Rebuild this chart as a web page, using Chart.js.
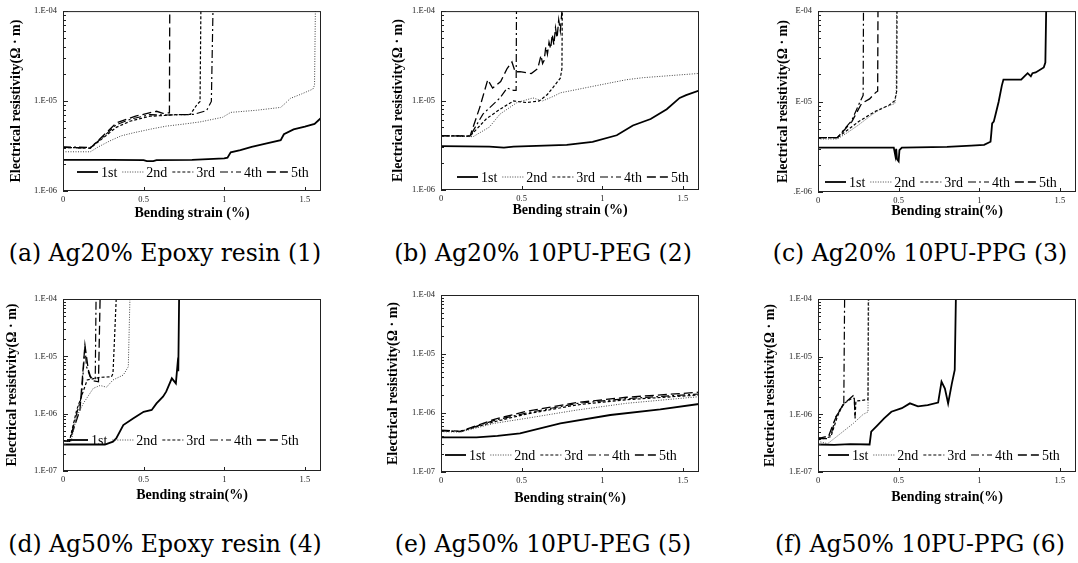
<!DOCTYPE html>
<html>
<head>
<meta charset="utf-8">
<script src="https://cdn.jsdelivr.net/npm/chart.js@4/dist/chart.umd.min.js"></script>
<style>
body{margin:0;background:#fff;width:1078px;height:563px;position:relative;overflow:hidden}
canvas{position:absolute}
.cap{position:absolute;width:400px;text-align:center;font-family:"DejaVu Serif",serif;font-size:23.5px;line-height:23.5px;color:#000;white-space:nowrap}
</style>
</head>
<body>
<script>
// data: [strain %, resistivity ohm*m]
const seriesNames = ['1st', '2nd', '3rd', '4th', '5th'];
const xTicks = [0, 0.5, 1, 1.5];
const captions = ['(a) Ag20% Epoxy resin (1)', '(b) Ag20% 10PU-PEG (2)', '(c) Ag20% 10PU-PPG (3)',
                  '(d) Ag50% Epoxy resin (4)', '(e) Ag50% 10PU-PEG (5)', '(f) Ag50% 10PU-PPG (6)'];
const yTitle = 'Electrical resistivity(\u03A9 \u00B7 m)';
const xTitles = ['Bending strain (%)', 'Bending strain (%)', 'Bending strain(%)',
                 'Bending strain(%)', 'Bending strain(%)', 'Bending strain(%)'];
const yLabelsStd = {'-4': '1.E-04', '-5': '1.E-05', '-6': '1.E-06', '-7': '1.E-07'};
const yLabelsCut = {'-4': 'E-04', '-5': 'E-05', '-6': '.E-06'};

// (a) Ag20% Epoxy
const a1 = [[0,2.22e-6],[0.3,2.22e-6],[0.5,2.2e-6],[0.52,2.15e-6],[0.56,2.15e-6],[0.58,2.2e-6],[0.8,2.22e-6],[1.0,2.3e-6],[1.02,2.35e-6],[1.04,2.69e-6],[1.1,2.85e-6],[1.17,3.1e-6],[1.25,3.35e-6],[1.35,3.67e-6],[1.37,4.27e-6],[1.43,4.84e-6],[1.5,5.2e-6],[1.56,5.58e-6],[1.6,6.49e-6]];
const a2 = [[0,2.73e-6],[0.17,2.73e-6],[0.22,3.1e-6],[0.29,3.6e-6],[0.36,4.1e-6],[0.44,4.45e-6],[0.55,4.9e-6],[0.64,5.26e-6],[0.75,5.55e-6],[0.85,5.86e-6],[0.99,6.6e-6],[1.04,7.48e-6],[1.2,7.9e-6],[1.35,8.5e-6],[1.38,9.5e-6],[1.41,1.07e-5],[1.48,1.2e-5],[1.55,1.36e-5],[1.56,1.5e-5],[1.565,1e-4]];
const a3 = [[0,3.05e-6],[0.17,3.0e-6],[0.25,3.9e-6],[0.33,5.1e-6],[0.42,6.0e-6],[0.54,6.78e-6],[0.62,6.9e-6],[0.7,7.06e-6],[0.79,7.1e-6],[0.83,9.1e-6],[0.85,9.9e-6],[0.855,1e-4]];
const a4 = [[0,3.1e-6],[0.17,3.05e-6],[0.25,4.0e-6],[0.33,5.45e-6],[0.42,6.3e-6],[0.54,7.06e-6],[0.65,7.0e-6],[0.81,7.1e-6],[0.89,7.82e-6],[0.92,9.9e-6],[0.93,1e-4]];
const a5 = [[0,3.05e-6],[0.17,3.0e-6],[0.26,4.3e-6],[0.33,5.7e-6],[0.45,6.8e-6],[0.58,7.7e-6],[0.62,7.3e-6],[0.66,7.4e-6],[0.662,1e-4]];

// (b) Ag20% 10PU-PEG
const b1 = [[0,3.1e-6],[0.3,3.05e-6],[0.39,2.98e-6],[0.45,3.05e-6],[0.78,3.2e-6],[0.94,3.46e-6],[1.09,4.09e-6],[1.19,5.26e-6],[1.3,6.22e-6],[1.4,8.0e-6],[1.48,1.07e-5],[1.52,1.15e-5],[1.6,1.29e-5]];
const b2 = [[0,3.99e-6],[0.2,3.95e-6],[0.3,5.05e-6],[0.366,7.06e-6],[0.47,9.47e-6],[0.57,1.07e-5],[0.63,9.9e-6],[0.7,1.12e-5],[0.74,1.22e-5],[0.94,1.44e-5],[1.15,1.71e-5],[1.25,1.8e-5],[1.6,2.01e-5]];
const b3 = [[0,4.05e-6],[0.18,4.0e-6],[0.28,6.22e-6],[0.366,8.0e-6],[0.45,9.9e-6],[0.53,9.5e-6],[0.61,9.9e-6],[0.66,1.17e-5],[0.7,1.44e-5],[0.74,1.78e-5],[0.75,2.28e-5],[0.752,1e-4]];
const b4 = [[0,4.05e-6],[0.18,4.0e-6],[0.26,7.06e-6],[0.366,1.07e-5],[0.41,1.38e-5],[0.45,1.3e-5],[0.466,1.3e-5],[0.468,1e-4]];
const b5 = [[0,4.05e-6],[0.18,4.0e-6],[0.24,8.34e-6],[0.29,1.71e-5],[0.32,1.38e-5],[0.37,1.63e-5],[0.41,2.28e-5],[0.44,2.7e-5],[0.46,2.1e-5],[0.49,2.1e-5],[0.56,2.0e-5],[0.6,2.28e-5],[0.62,3.2e-5],[0.63,2.6e-5],[0.64,2.82e-5],[0.65,4.0e-5],[0.66,3.3e-5],[0.67,4.5e-5],[0.68,3.8e-5],[0.69,5.5e-5],[0.7,4.2e-5],[0.71,6.5e-5],[0.72,5.0e-5],[0.73,8.0e-5],[0.74,6.0e-5],[0.75,1e-4]];

// (c) Ag20% 10PU-PPG
const c1 = [[0,3.1e-6],[0.47,3.1e-6],[0.48,2.5e-6],[0.485,3.0e-6],[0.49,2.3e-6],[0.5,2.18e-6],[0.505,2.9e-6],[0.52,3.1e-6],[0.8,3.15e-6],[0.95,3.25e-6],[1.03,3.32e-6],[1.07,3.6e-6],[1.075,4.5e-6],[1.08,5.73e-6],[1.09,6.0e-6],[1.1,7.06e-6],[1.12,9.9e-6],[1.14,1.5e-5],[1.15,1.75e-5],[1.26,1.75e-5],[1.28,1.9e-5],[1.3,2.06e-5],[1.32,1.9e-5],[1.33,2.06e-5],[1.35,2.1e-5],[1.4,2.38e-5],[1.41,2.7e-5],[1.415,1e-4]];
const c2 = [[0,3.86e-6],[0.12,3.86e-6],[0.18,4.5e-6],[0.25,5.49e-6],[0.33,7.06e-6],[0.39,8.34e-6],[0.476,9.5e-6],[0.485,1.2e-5],[0.487,1e-4]];
const c3 = [[0,3.99e-6],[0.12,3.99e-6],[0.25,5.97e-6],[0.35,7.7e-6],[0.44,9.1e-6],[0.476,1.02e-5],[0.488,1.3e-5],[0.49,1e-4]];
const c4 = [[0,3.99e-6],[0.12,3.99e-6],[0.21,6.22e-6],[0.26,9.9e-6],[0.28,1.17e-5],[0.282,1e-4]];
const c5 = [[0,3.99e-6],[0.12,3.99e-6],[0.21,6.0e-6],[0.27,9.5e-6],[0.32,1.07e-5],[0.36,1.27e-5],[0.37,1.3e-5],[0.372,1e-4]];

// (d) Ag50% Epoxy
const d1 = [[0,2.9e-7],[0.26,2.9e-7],[0.31,3.25e-7],[0.33,3.7e-7],[0.374,6.34e-7],[0.437,8.3e-7],[0.5,1.08e-6],[0.55,1.16e-6],[0.58,1.51e-6],[0.62,1.98e-6],[0.64,2.42e-6],[0.675,4.13e-6],[0.7,3.38e-6],[0.71,7.06e-6],[0.715,5.5e-6],[0.72,1e-4]];
const d2 = [[0,3.4e-7],[0.05,3.3e-7],[0.085,8.87e-7],[0.126,1.51e-6],[0.188,2.77e-6],[0.23,3.1e-6],[0.27,2.9e-6],[0.31,3.87e-6],[0.374,4.72e-6],[0.405,6.6e-6],[0.415,1e-4]];
const d3 = [[0,3.4e-7],[0.04,3.3e-7],[0.085,1.16e-6],[0.15,3.87e-6],[0.23,4.3e-6],[0.3,4.4e-6],[0.31,5.0e-6],[0.32,2.2e-5],[0.33,1e-4]];
const d4 = [[0,3.4e-7],[0.04,3.3e-7],[0.085,1.0e-6],[0.115,2.0e-6],[0.136,1.48e-5],[0.146,6.6e-6],[0.168,4.4e-6],[0.2,4.1e-6],[0.205,1e-4]];
const d5 = [[0,3.4e-7],[0.04,3.3e-7],[0.105,1.16e-6],[0.136,1.58e-5],[0.157,5.8e-6],[0.178,3.8e-6],[0.22,3.6e-6],[0.23,1e-4]];

// (e) Ag50% 10PU-PEG
const e1 = [[0,3.87e-7],[0.22,3.87e-7],[0.35,4.1e-7],[0.49,4.52e-7],[0.74,6.68e-7],[1.05,9.25e-7],[1.36,1.15e-6],[1.6,1.42e-6]];
const e2 = [[0,4.83e-7],[0.12,4.75e-7],[0.33,6.68e-7],[0.53,8.13e-7],[0.84,1.12e-6],[1.15,1.46e-6],[1.6,1.89e-6]];
const e3 = [[0,5.0e-7],[0.12,4.85e-7],[0.33,7.1e-7],[0.53,9.6e-7],[0.84,1.37e-6],[1.15,1.68e-6],[1.6,2.02e-6]];
const e4 = [[0,5.0e-7],[0.12,4.85e-7],[0.33,7.5e-7],[0.53,1.0e-6],[0.84,1.45e-6],[1.15,1.75e-6],[1.6,2.1e-6]];
const e5 = [[0,5.1e-7],[0.12,4.9e-7],[0.33,7.8e-7],[0.53,1.07e-6],[0.84,1.5e-6],[1.15,1.85e-6],[1.6,2.25e-6]];

// (f) Ag50% 10PU-PPG
const f1 = [[0,3.0e-7],[0.1,2.95e-7],[0.2,3.05e-7],[0.32,3.0e-7],[0.33,5.0e-7],[0.37,6.5e-7],[0.41,8.5e-7],[0.455,1.11e-6],[0.52,1.28e-6],[0.57,1.55e-6],[0.62,1.37e-6],[0.68,1.45e-6],[0.745,1.6e-6],[0.766,3.68e-6],[0.787,2.8e-6],[0.807,1.55e-6],[0.83,3.4e-6],[0.848,5.87e-6],[0.855,1e-4]];
const f2 = [[0,3.4e-7],[0.06,3.1e-7],[0.12,4.2e-7],[0.22,7.0e-7],[0.28,1.0e-6],[0.31,1.1e-6],[0.315,1e-4]];
const f3 = [[0,3.6e-7],[0.08,4.1e-7],[0.12,9.1e-7],[0.155,1.5e-6],[0.21,1.9e-6],[0.225,1.9e-6],[0.23,8.5e-7],[0.235,1.7e-6],[0.31,1.8e-6],[0.312,1e-4]];
const f4 = [[0,3.8e-7],[0.08,4.3e-7],[0.11,9.1e-7],[0.14,1.2e-6],[0.16,1.55e-6],[0.165,1e-4]];
const f5 = [[0,3.8e-7],[0.06,3.8e-7],[0.104,8.0e-7],[0.135,1.2e-6],[0.165,1.55e-6],[0.217,2.1e-6],[0.225,1.9e-6],[0.23,9.1e-7]];

const panelData = [[a1,a2,a3,a4,a5],[b1,b2,b3,b4,b5],[c1,c2,c3,c4,c5],[d1,d2,d3,d4,d5],[e1,e2,e3,e4,e5],[f1,f2,f3,f4,f5]];
const yMins = [1e-6, 1e-6, 1e-6, 1e-7, 1e-7, 1e-7];

// line styles for 1st..5th
const lineStyle = [
  {dash: [], w: 1.8, c: '#000'},
  {dash: [1, 1.5], w: 1, c: '#444'},
  {dash: [3, 2], w: 1.2, c: '#000'},
  {dash: [8, 3, 2, 3], w: 1.2, c: '#000'},
  {dash: [9, 4], w: 1.3, c: '#000'}
];

// panel placement on the page
const layout = [
  {left: 8,   top: 0,   w: 320, h: 222, pt: 8,  pr: 7, yw: 55, xh: 31, lgx: 14, lgy: 19, cx: 165, cy: 242, cut: false},
  {left: 390, top: 0,   w: 316, h: 219, pt: 8,  pr: 7, yw: 51, xh: 29, lgx: 16, lgy: 13, cx: 543, cy: 242, cut: false},
  {left: 775, top: 0,   w: 303, h: 220, pt: 8,  pr: 2, yw: 43, xh: 28, lgx: 7,  lgy: 10, cx: 920, cy: 242, cut: true},
  {left: 4,   top: 280, w: 324, h: 224, pt: 19, pr: 7, yw: 59, xh: 33, lgx: 4,  lgy: 31, cx: 165, cy: 533, cut: false},
  {left: 385, top: 280, w: 321, h: 227, pt: 15, pr: 7, yw: 56, xh: 35, lgx: 4,  lgy: 17, cx: 543, cy: 533, cut: false},
  {left: 762, top: 280, w: 316, h: 226, pt: 19, pr: 2, yw: 56, xh: 34, lgx: 10, lgy: 17, cx: 920, cy: 533, cut: false}
];

Chart.defaults.font.family = '"Liberation Serif", "Times New Roman", serif';
Chart.defaults.color = '#000';

function logTicks(min, max) {
  const out = [];
  const e0 = Math.round(Math.log10(min)), e1 = Math.round(Math.log10(max));
  for (let e = e0; e < e1; e++)
    for (let m = 1; m < 10; m++) out.push({value: m * Math.pow(10, e)});
  out.push({value: max});
  return out;
}

// box round the plot and inward tick marks
const frame = {
  id: 'frame',
  afterDatasetsDraw(chart) {
    const {ctx, chartArea: a, scales} = chart;
    ctx.save();
    ctx.strokeStyle = '#222';
    ctx.lineWidth = 1;
    ctx.strokeRect(a.left + 0.5, a.top + 0.5, a.width - 1, a.height - 1);
    ctx.beginPath();
    scales.y.ticks.forEach(t => {
      const py = Math.round(scales.y.getPixelForValue(t.value)) + 0.5;
      const len = t.label ? 5 : 3;
      ctx.moveTo(a.left, py);
      ctx.lineTo(a.left + len, py);
    });
    xTicks.forEach(v => {
      if (!v) return;
      const px = Math.round(scales.x.getPixelForValue(v)) + 0.5;
      ctx.moveTo(px, a.bottom);
      ctx.lineTo(px, a.bottom - 4);
    });
    ctx.stroke();
    ctx.restore();
  }
};

// legend inside the plot, one row near the bottom
const inLegend = {
  id: 'inLegend',
  afterDraw(chart, args, opts) {
    const {ctx, chartArea} = chart;
    let x = chartArea.left + opts.dx;
    const y = chartArea.bottom - opts.dy;
    ctx.save();
    ctx.font = '14px "Liberation Serif"';
    ctx.textBaseline = 'middle';
    chart.data.datasets.forEach(ds => {
      ctx.beginPath();
      ctx.setLineDash(ds.borderDash);
      ctx.lineWidth = ds.borderWidth;
      ctx.strokeStyle = ds.borderColor;
      ctx.moveTo(x, y);
      ctx.lineTo(x + 21, y);
      ctx.stroke();
      x += 24;
      ctx.setLineDash([]);
      ctx.fillStyle = '#000';
      ctx.fillText(ds.label, x, y + 1);
      x += ctx.measureText(ds.label).width + 5;
    });
    ctx.restore();
  }
};

layout.forEach((p, i) => {
  const cv = document.createElement('canvas');
  cv.width = p.w; cv.height = p.h;
  cv.style.left = p.left + 'px'; cv.style.top = p.top + 'px';
  document.body.appendChild(cv);

  const cap = document.createElement('div');
  cap.className = 'cap';
  cap.style.left = (p.cx - 200) + 'px';
  cap.style.top = p.cy + 'px';
  cap.textContent = captions[i];
  document.body.appendChild(cap);

  const yMin = yMins[i];
  const yLab = p.cut ? yLabelsCut : yLabelsStd;

  const datasets = panelData[i].map((pts, k) => ({
    label: seriesNames[k],
    data: pts.map(([x, y]) => ({x, y})),
    borderColor: lineStyle[k].c,
    borderWidth: lineStyle[k].w,
    borderDash: lineStyle[k].dash,
    pointRadius: 0,
    tension: 0,
    fill: false
  }));

  new Chart(cv, {
    type: 'line',
    data: {datasets},
    options: {
      responsive: false,
      animation: false,
      devicePixelRatio: 1,
      layout: {padding: {top: p.pt, right: p.pr, left: 0, bottom: 0}},
      plugins: {
        legend: {display: false},
        tooltip: {enabled: false},
        inLegend: {dx: p.lgx, dy: p.lgy}
      },
      scales: {
        x: {
          type: 'linear', min: 0, max: 1.6,
          afterBuildTicks: s => { s.ticks = xTicks.map(v => ({value: v})); },
          afterFit: s => { s.height = p.xh; },
          grid: {display: false, drawTicks: false},
          border: {display: false},
          ticks: {autoSkip: false, maxRotation: 0, padding: 4, font: {size: 8.5}, color: '#222',
                  callback: v => String(v)},
          title: {display: true, text: xTitles[i], font: {size: 14, weight: 'bold'}, padding: {top: 0, bottom: 0}}
        },
        y: {
          type: 'logarithmic', min: yMin, max: 1e-4,
          afterBuildTicks: s => { s.ticks = logTicks(yMin, 1e-4); },
          afterFit: s => { s.width = p.yw; },
          grid: {display: false, drawTicks: false},
          border: {display: false},
          ticks: {autoSkip: false, padding: 6, font: {size: 8.5}, color: '#222',
                  callback: v => {
                    const e = Math.round(Math.log10(v));
                    if (Math.abs(v / Math.pow(10, e) - 1) > 1e-6) return '';
                    return yLab[String(e)] || '';
                  }},
          title: {display: true, text: yTitle, font: {size: 14, weight: 'bold'}, padding: {top: 0, bottom: 0}}
        }
      }
    },
    plugins: [frame, inLegend]
  });
});
</script>
</body>
</html>
